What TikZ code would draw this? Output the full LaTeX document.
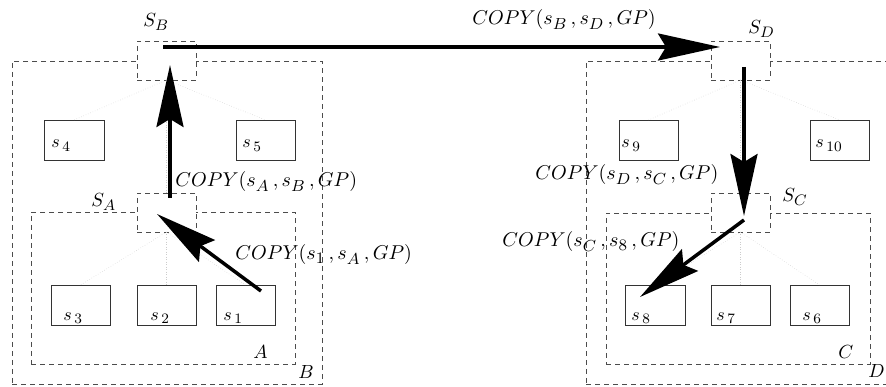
\documentclass[tikz,border=0pt]{standalone}
\usetikzlibrary{arrows.meta,calc}
% larger subscripts than the default 7pt at 10pt text
\DeclareMathSizes{10}{10}{8}{6}
\begin{document}
\begin{tikzpicture}[x=1pt,y=-1pt,
  group/.style={draw=black!70,dash pattern=on 5pt off 4pt,line width=0.9pt,
    rectangle,inner sep=0pt,outer sep=0pt},
  server/.style={group,fill=white,minimum width=59pt,minimum height=39pt},
  leaf/.style={draw=black!80,line width=0.9pt,rectangle,inner sep=0pt,outer sep=0pt,
    minimum height=40pt},
  tree/.style={draw=black!20,dotted,line width=0.5pt},
  copyarrow/.style={line width=3.5pt,-{Stealth[length=62pt,width=27pt,inset=8pt]}},
  tag/.style={anchor=base west,inner sep=0pt,font=\normalsize,scale=1.9,transform shape},
  leaftag/.style={anchor=base west,inner sep=0pt,font=\normalsize,scale=1.8,transform shape},
  op/.style={anchor=base west,inner sep=0pt,font=\normalsize,scale=2.0,transform shape},
]
\useasboundingbox (0,0) rectangle (886,387);

% outer and inner groups
\node[group,minimum width=310pt,minimum height=323pt] (B) at (167,222.5) {};
\node[group,minimum width=264pt,minimum height=152pt] (A) at (163,288) {};
\node[group,minimum width=310pt,minimum height=323pt] (D) at (741,222.5) {};
\node[group,minimum width=264pt,minimum height=151pt] (C) at (738,288.5) {};

% leaf sites
\node[leaf,minimum width=60pt] (s4) at (74,140) {};
\node[leaf,minimum width=59pt] (s5) at (265.5,140) {};
\node[leaf,minimum width=59pt] (s3) at (80.5,305) {};
\node[leaf,minimum width=59pt] (s2) at (166.5,305) {};
\node[leaf,minimum width=59pt] (s1) at (245.5,305) {};
\node[leaf,minimum width=59pt] (s9) at (648.5,140) {};
\node[leaf,minimum width=59pt] (s10) at (839.5,140) {};
\node[leaf,minimum width=60pt] (s8) at (655,305) {};
\node[leaf,minimum width=59pt] (s7) at (740.5,305) {};
\node[leaf,minimum width=59pt] (s6) at (819.5,305) {};

% group servers
\node[server] (SB) at (166.5,60.5) {};
\node[server] (SA) at (166.5,212.5) {};
\node[server] (SD) at (740.5,60.5) {};
\node[server] (SC) at (740.5,212.5) {};

% hierarchy links
\draw[tree] (SB.south) -- (s4.north);
\draw[tree] (SB.south) -- (s5.north);
\draw[tree] (SB.south) -- (SA.north);
\draw[tree] (SA.south) -- (s3.north);
\draw[tree] (SA.south) -- (s2.north);
\draw[tree] (SA.south) -- (s1.north);
\draw[tree] (SD.south) -- (s9.north);
\draw[tree] (SD.south) -- (s10.north);
\draw[tree] (SD.south) -- (SC.north);
\draw[tree] (SC.south) -- (s8.north);
\draw[tree] (SC.south) -- (s7.north);
\draw[tree] (SC.south) -- (s6.north);

% site labels
\node[leaftag] (l4) at (51,148) {$s_{\,4}$};
\node[leaftag] (l5) at (242,148) {$s_{\,5}$};
\node[leaftag] (l9) at (621,148) {$s_{\,9}$};
\node[leaftag] (l10) at (815,148) {$s_{\,10}$};
\node[leaftag] (l3) at (63,320) {$s_{\,3}$};
\node[leaftag] (l2) at (150,320) {$s_{\,2}$};
\node[leaftag] (l1) at (223,320) {$s_{\,1}$};
\node[leaftag] (l8) at (631,320) {$s_{\,8}$};
\node[leaftag] (l7) at (716,320) {$s_{\,7}$};
\node[leaftag] (l6) at (802,320) {$s_{\,6}$};

% server and group labels
\node[tag] (lSB) at (143,27) {$S_B$};
\node[tag] (lSA) at (91,207) {$S_A$};
\node[tag] (lSD) at (748,34) {$S_D$};
\node[tag] (lSC) at (782,202) {$S_C$};
\node[tag] (lA) at (253,358) {$A$};
\node[tag] (lB) at (298,378) {$B$};
\node[tag] (lC) at (838,358) {$C$};
\node[tag] (lD) at (868,377) {$D$};

% copy operations
\draw[copyarrow] ($(s1.center)+(15.5,-14)$) -- ($(SA.center)+(-9.5,1.5)$);
\draw[copyarrow] ($(SA.center)+(3.5,-14.5)$) -- ($(SB.center)+(3.5,4.5)$);
\draw[copyarrow] ($(SB.center)+(-3.5,-13.5)$) -- ($(SD.center)+(-20.5,-13.5)$);
\draw[copyarrow] ($(SD.center)+(3.5,6.5)$) -- ($(SC.center)+(3.5,3.5)$);
\draw[copyarrow] ($(SC.center)+(3.5,7.5)$) -- ($(s8.center)+(-15,-8)$);

\node[op] (c1) at (235,260) {$COPY(s_1\,,s_A\,,GP)$};
\node[op] (c2) at (175,187) {$COPY(s_A\,,s_B\,,GP)$};
\node[op] (c3) at (472,25) {$COPY(s_B\,,s_D\,,GP)$};
\node[op] (c4) at (535,180) {$COPY(s_D\,,s_C\,,GP)$};
\node[op] (c5) at (502,247) {$COPY(s_C\,,s_8\,,GP)$};
\end{tikzpicture}
\end{document}
